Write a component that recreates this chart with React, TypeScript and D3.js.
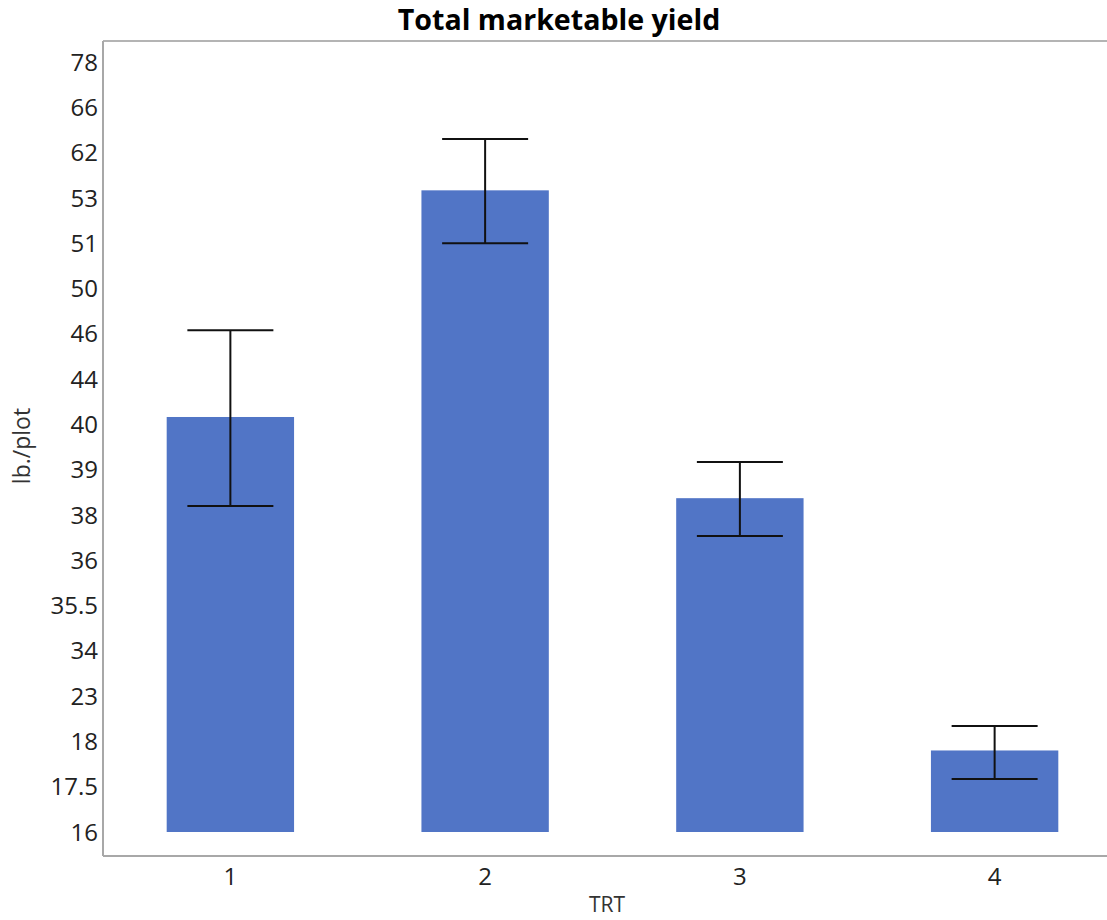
import React from "react";
import * as d3 from "d3";

const categories = ["1", "2", "3", "4"];
const means = [40.65, 54.5, 38.37, 17.9];
const errHigh = [46.3, 63.2, 39.17, 19.7];
const errLow = [38.2, 51.0, 37.07, 17.585];
const yTickValues = [16, 17.5, 18, 23, 34, 35.5, 36, 38, 39, 40, 44, 46, 50, 51, 53, 62, 66, 78];
const baseValue = 16;

const W = 1107;
const H = 920;
const left = 103;
const right = 1122;
const top = 41;
const bottom = 856;
const font = "'Open Sans', 'Noto Sans', sans-serif";

export default function App() {
  const x = d3.scaleBand<string>().domain(categories).range([left, right]).paddingInner(0.5).paddingOuter(0.25);
  const yStep = (832 - 62) / (yTickValues.length - 1);
  const y = d3
    .scaleLinear()
    .domain(yTickValues)
    .range(yTickValues.map((_, i) => 832 - i * yStep));
  const capW = 86;

  return (
    <svg width={W} height={H} style={{ position: "absolute", left: 0, top: 0, background: "#fff" }}>
      <text x={559} y={30} textAnchor="middle" fontFamily={font} fontWeight="bold" fontSize={28.6} fill="#000">
        Total marketable yield
      </text>
      {/* frame */}
      <line x1={left} x2={W + 20} y1={top} y2={top} stroke="#b4b4b4" strokeWidth={2} />
      <line x1={left} x2={left} y1={top} y2={bottom} stroke="#a8a8a8" strokeWidth={2} />
      <line x1={left} x2={W + 20} y1={bottom} y2={bottom} stroke="#a8a8a8" strokeWidth={2} />
      {/* y ticks */}
      {yTickValues.map((v) => (
        <text key={v} x={98} y={y(v)} dy="0.36em" textAnchor="end" fontFamily={font} fontSize={24} fill="#222">
          {String(v)}
        </text>
      ))}
      {/* x ticks */}
      {categories.map((c) => (
        <text key={c} x={x(c)! + x.bandwidth() / 2} y={885} textAnchor="middle" fontFamily={font} fontSize={24} fill="#222">
          {c}
        </text>
      ))}
      <text x={607} y={912} textAnchor="middle" fontFamily={font} fontSize={21} fill="#333">
        TRT
      </text>
      <text transform={`translate(22,446) rotate(-90)`} textAnchor="middle" dy="0.35em" fontFamily={font} fontSize={23} fill="#333">
        lb./plot
      </text>
      {/* bars */}
      {categories.map((c, i) => (
        <rect key={c} x={x(c)!} width={x.bandwidth()} y={y(means[i])} height={y(baseValue) - y(means[i])} fill="#5175c6" />
      ))}
      {/* error bars */}
      {categories.map((c, i) => {
        const cx = x(c)! + x.bandwidth() / 2;
        return (
          <g key={c} stroke="#111" strokeWidth={2}>
            <line x1={cx} x2={cx} y1={y(errHigh[i])} y2={y(errLow[i])} />
            <line x1={cx - capW / 2} x2={cx + capW / 2} y1={y(errHigh[i])} y2={y(errHigh[i])} />
            <line x1={cx - capW / 2} x2={cx + capW / 2} y1={y(errLow[i])} y2={y(errLow[i])} />
          </g>
        );
      })}
    </svg>
  );
}
